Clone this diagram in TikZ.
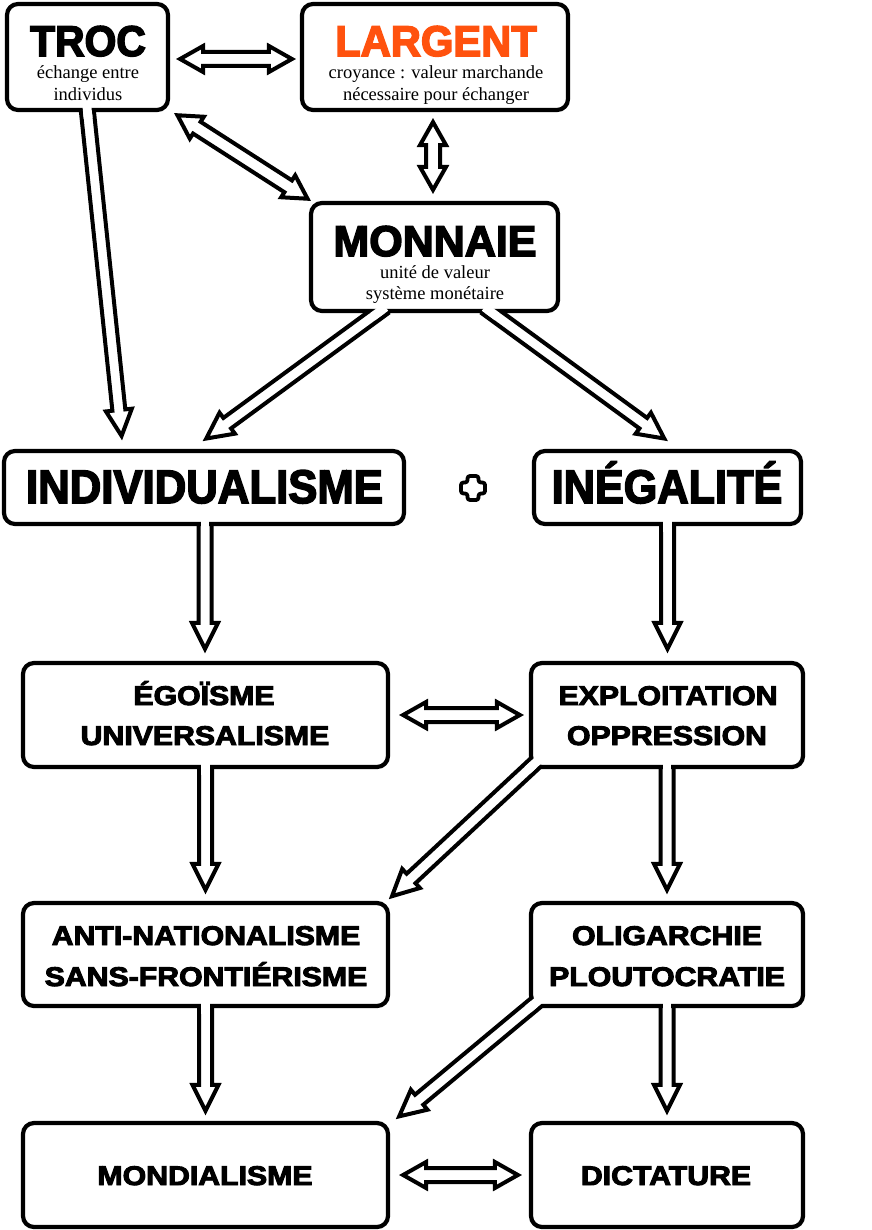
\documentclass[tikz,border=0pt]{standalone}
\usepackage{fontspec}
\usepackage{graphicx}
\setmainfont{Liberation Serif}
\newfontfamily\heavyfont{Liberation Sans Bold}[FakeBold=3.5]
\usetikzlibrary{calc}
\pgfdeclarelayer{bg}
\pgfsetlayers{bg,main}
\definecolor{orng}{RGB}{255,82,14}

\tikzset{
 box/.style={draw, fill=white, line width=4.2pt, rounded corners=11pt, inner sep=0pt},
 arrline/.style={line width=4pt, line join=miter, line cap=butt},
 ttl/.style={anchor=base, inner sep=0pt, font=\heavyfont\fontsize{43}{43}\selectfont},
 midt/.style={anchor=base, inner sep=0pt, font=\heavyfont\fontsize{47}{47}\selectfont},
 sml/.style={anchor=base, inner sep=0pt, font=\heavyfont\fontsize{27}{27}\selectfont},
 subt/.style={anchor=base, inner sep=0pt, font=\fontsize{18.5}{20}\selectfont},
}

\newcommand{\sarrow}[2]{%
 \coordinate (aT) at (#1);
 \coordinate (aP) at (#2);
 \coordinate (aB) at ($(aP)!4pt!(aT)$);
 \coordinate (aH) at ($(aB)!26pt!(aT)$);
 \coordinate (aS) at ($(aT)!-10pt!(aB)$);
 \coordinate (aE) at ($(aT)!6pt!(aB)$);
 \begin{pgfonlayer}{bg}
 \draw[arrline, fill=white] ($(aS)!6.5pt!90:(aB)$) -- ($(aH)!6.5pt!90:(aB)$) -- ($(aH)!13pt!90:(aB)$) -- (aB) -- ($(aH)!13pt!-90:(aB)$) -- ($(aH)!6.5pt!-90:(aB)$) -- ($(aS)!6.5pt!-90:(aB)$);
 \end{pgfonlayer}
 \fill[white] ($(aS)!4.4pt!90:(aB)$) -- ($(aE)!4.4pt!90:(aB)$) -- ($(aE)!4.4pt!-90:(aB)$) -- ($(aS)!4.4pt!-90:(aB)$) -- cycle;
}

\newcommand{\darrow}[2]{%
 \coordinate (dA0) at (#1);
 \coordinate (dB0) at (#2);
 \coordinate (dA) at ($(dA0)!4pt!(dB0)$);
 \coordinate (dB) at ($(dB0)!4pt!(dA0)$);
 \coordinate (dHA) at ($(dA)!23pt!(dB)$);
 \coordinate (dHB) at ($(dB)!23pt!(dA)$);
 \draw[arrline, fill=white] (dA) -- ($(dHA)!13pt!90:(dB)$) -- ($(dHA)!7pt!90:(dB)$) -- ($(dHB)!7pt!-90:(dA)$) -- ($(dHB)!13pt!-90:(dA)$) -- (dB) -- ($(dHB)!13pt!90:(dA)$) -- ($(dHB)!7pt!90:(dA)$) -- ($(dHA)!7pt!-90:(dB)$) -- ($(dHA)!13pt!-90:(dB)$) -- cycle;
}

\begin{document}
\begin{tikzpicture}[x=1pt,y=-1pt]
\useasboundingbox (0,0) rectangle (871,1230);
\begin{pgfonlayer}{bg}
\fill[white] (0,0) rectangle (871,1230);
\end{pgfonlayer}

% boxes
\node[box, minimum width=161pt, minimum height=106pt] (troc) at (87.5,57) {};
\node[box, minimum width=266pt, minimum height=106pt] (largent) at (435,57) {};
\node[box, minimum width=247pt, minimum height=108pt] (monnaie) at (434.5,257) {};
\node[box, minimum width=400pt, minimum height=73pt] (indiv) at (204,487.5) {};
\node[box, minimum width=267pt, minimum height=73pt] (ineg) at (667.5,487.5) {};
\node[box, minimum width=365pt, minimum height=104pt] (ego) at (205.5,715) {};
\node[box, minimum width=272pt, minimum height=104pt] (expl) at (667,715) {};
\node[box, minimum width=365pt, minimum height=103pt] (anti) at (205.5,954.5) {};
\node[box, minimum width=272pt, minimum height=103pt] (olig) at (667,954.5) {};
\node[box, minimum width=365pt, minimum height=104pt] (mond) at (205.5,1175) {};
\node[box, minimum width=272pt, minimum height=104pt] (dict) at (667,1175) {};

% single arrows
\sarrow{troc.south}{$(indiv.north)+(-82,-9)$}
\sarrow{$(monnaie.south)+(-57,0)$}{$(indiv.north)+(-1,-8)$}
\sarrow{$(monnaie.south)+(58,0)$}{$(ineg.north)+(0,-8)$}
\sarrow{$(indiv.south)+(1,0)$}{$(ego.north)+(-0.5,-8)$}
\sarrow{ineg.south}{$(expl.north)+(0.5,-8)$}
\sarrow{ego.south}{$(anti.north)+(0,-7)$}
\sarrow{$(expl.south west)+(3,-3)$}{$(anti.north east)+(-1,-2)$}
\sarrow{expl.south}{$(olig.north)+(0,-7)$}
\sarrow{anti.south}{$(mond.north)+(0,-6)$}
\sarrow{$(olig.south west)+(4,-3)$}{$(mond.north east)+(6,-2)$}
\sarrow{olig.south}{$(dict.north)+(0,-6)$}

% double arrows
\darrow{$(troc.east)+(6,2)$}{$(largent.west)+(-4,2)$}
\darrow{$(troc.south east)+(4,1)$}{$(monnaie.north west)+(2,0)$}
\darrow{$(largent.south)+(-2,6)$}{$(monnaie.north)+(-1.5,-7)$}
\darrow{$(ego.east)+(9,0)$}{$(expl.west)+(-5,0)$}
\darrow{$(mond.east)+(9,0)$}{$(dict.west)+(-7,0)$}

% plus sign
\draw[line width=3.8pt, fill=white, rounded corners=2.5pt, line join=round]
 (467.5,476) -- (478.5,476) -- (478.5,482.5) -- (485,482.5) -- (485,493.5) -- (478.5,493.5) -- (478.5,500) -- (467.5,500) -- (467.5,493.5) -- (461,493.5) -- (461,482.5) -- (467.5,482.5) -- cycle;

% texts
\node[ttl] (troct) at (88,56) {\scalebox{0.95}[1]{TROC}};
\node[subt] (trocs1) at (88,79) {échange entre};
\node[subt] (trocs2) at (88,101) {individus};
\node[ttl, text=orng] (largentt) at (436,56) {\scalebox{0.97}[1]{LARGENT}};
\node[subt] (largents1) at (436,79) {croyance : valeur marchande};
\node[subt] (largents2) at (436,101) {nécessaire pour échanger};
\node[ttl] (monnaiet) at (435,256) {\scalebox{1.0}[1]{MONNAIE}};
\node[subt] (monnaies1) at (435,279) {unité de valeur};
\node[subt] (monnaies2) at (435,300) {système monétaire};
\node[midt] (indivt) at (204.5,503) {\scalebox{0.93}[1]{INDIVIDUALISME}};
\node[midt] (inegt) at (667,503) {\scalebox{0.92}[1]{INÉGALITÉ}};
\node[sml] (egot1) at (204,705) {\scalebox{1.12}[1]{ÉGOÏSME}};
\node[sml] (egot2) at (205,745) {\scalebox{1.12}[1]{UNIVERSALISME}};
\node[sml] (explt1) at (668,705) {\scalebox{1.12}[1]{EXPLOITATION}};
\node[sml] (explt2) at (667,745) {\scalebox{1.12}[1]{OPPRESSION}};
\node[sml] (antit1) at (206,945) {\scalebox{1.12}[1]{ANTI-NATIONALISME}};
\node[sml] (antit2) at (206,986) {\scalebox{1.12}[1]{SANS-FRONTIÉRISME}};
\node[sml] (oligt1) at (667,945) {\scalebox{1.12}[1]{OLIGARCHIE}};
\node[sml] (oligt2) at (667,986) {\scalebox{1.12}[1]{PLOUTOCRATIE}};
\node[sml] (mondt) at (205,1185) {\scalebox{1.12}[1]{MONDIALISME}};
\node[sml] (dictt) at (666,1185) {\scalebox{1.12}[1]{DICTATURE}};
\end{tikzpicture}
\end{document}
